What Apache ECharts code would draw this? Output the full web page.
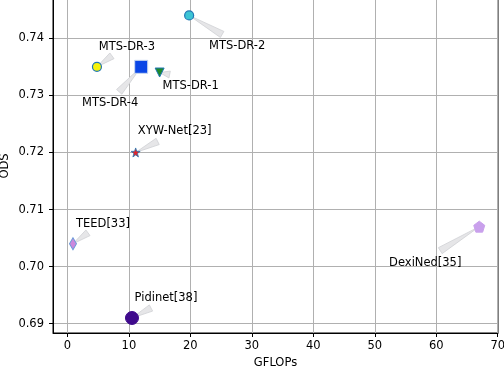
<!DOCTYPE html>
<html>
<head>
<meta charset="utf-8">
<script src="https://cdn.jsdelivr.net/npm/echarts@6/dist/echarts.min.js"></script>
<style>
  html, body { margin: 0; padding: 0; background: #fff; }
  #chart { width: 504px; height: 370px; }
</style>
</head>
<body>
<div id="chart"></div>
<script>
// 数据
var models = ['MTS-DR-2', 'MTS-DR-3', 'MTS-DR-4', 'MTS-DR-1', 'XYW-Net[23]', 'TEED[33]', 'Pidinet[38]', 'DexiNed[35]'];
var gflops = [19.8, 4.8, 12.0, 15.0, 11.1, 0.9, 10.5, 67.0];
var ods = [0.744, 0.735, 0.735, 0.734, 0.720, 0.704, 0.691, 0.707];
var xTicks = [0, 10, 20, 30, 40, 50, 60, 70];
var yTicks = [0.69, 0.70, 0.71, 0.72, 0.73, 0.74];

// marker styles
var STAR = 'path://M0,-10 L2.35,-3.24 L9.51,-3.09 L3.8,1.24 L5.88,8.09 L0,4 L-5.88,8.09 L-3.8,1.24 L-9.51,-3.09 L-2.35,-3.24 Z';
var PENTA = 'path://M0,-10 L9.51,-3.09 L5.88,8.09 L-5.88,8.09 L-9.51,-3.09 Z';
var symbols = ['circle', 'circle', 'rect', 'triangle', STAR, 'diamond', 'circle', PENTA];
var sizes = [9, 9, 13, 9, 9, [7, 12], 13, 11];
var rotates = [0, 0, 0, 180, 0, 0, 0, 0];
var borderW = [1.2, 1.2, 1, 1, 0.8, 1, 1, 1];
var fills = ['#3cc4d4', '#f6f20a', '#0a46e6', '#1e8a2a', '#e0242a', '#cc88dd', '#3f0a8c', '#c9a0ec'];
var edges = ['#1f77b4', '#1f77b4', '#c8d8f0', '#1f77b4', '#1f77b4', '#6a9ad8', '#3f0a8c', '#c9a0ec'];
// 注释箭头宽端、文字相对点的像素偏移
var arrowEnd = [[33, 19], [15, -11], [-22, 25], [10, 2], [22, -11], [15, -11], [19, -10], [-39, 24]];
var textOff = [[48, 31], [30, -20], [-31, 36], [31, 13], [39, -21], [30, -20], [34, -20], [-54, 36]];

var FONT = 'DejaVu Sans';
var chart = echarts.init(document.getElementById('chart'), null, { renderer: 'canvas' });

var series = [{
  type: 'custom',
  z: 1,
  silent: true,
  data: models.map(function (m, i) { return [gflops[i], ods[i], i]; }),
  renderItem: function (params, api) {
    var i = api.value(2);
    var p = api.coord([api.value(0), api.value(1)]);
    var e = [p[0] + arrowEnd[i][0], p[1] + arrowEnd[i][1]];
    var dx = e[0] - p[0], dy = e[1] - p[1];
    var len = Math.sqrt(dx * dx + dy * dy);
    var nx = -dy / len * 3.5, ny = dx / len * 3.5;
    return {
      type: 'polygon',
      shape: { points: [[p[0], p[1]], [e[0] + nx, e[1] + ny], [e[0] - nx, e[1] - ny]] },
      style: { fill: '#e6e6e8', stroke: '#cfd0d4', lineWidth: 0.8 }
    };
  }
}];

models.forEach(function (m, i) {
  series.push({
    type: 'scatter',
    name: m,
    z: 3,
    symbol: symbols[i],
    symbolSize: sizes[i],
    symbolRotate: rotates[i],
    itemStyle: { color: fills[i], borderColor: edges[i], borderWidth: borderW[i], opacity: 1 },
    label: {
      show: true,
      position: 'inside',
      offset: textOff[i],
      formatter: m,
      color: '#000',
      fontFamily: FONT,
      fontSize: 11.5
    },
    data: [[gflops[i], ods[i]]]
  });
});

var option = {
  animation: false,
  backgroundColor: '#fff',
  grid: { left: 53, right: 6, top: -1, bottom: 37, containLabel: false, outerBoundsMode: 'none',
    show: true, borderColor: '#000', borderWidth: 1 },
  xAxis: {
    type: 'value',
    min: -2.35,
    max: 70.05,
    name: 'GFLOPs',
    nameLocation: 'middle',
    nameGap: 23,
    nameTextStyle: { fontFamily: FONT, fontSize: 11.5, color: '#000' },
    axisLine: { onZero: false, lineStyle: { color: '#000' } },
    axisTick: { show: true, length: 4, customValues: xTicks, lineStyle: { color: '#000' } },
    axisLabel: { customValues: xTicks, margin: 7, fontFamily: FONT, fontSize: 11.5, color: '#000',
      formatter: function (v) { return String(Math.round(v)); } },
    splitLine: { show: true, lineStyle: { color: '#b0b0b0', width: 1 } }
  },
  yAxis: {
    type: 'value',
    min: 0.68837,
    max: 0.74688,
    name: 'ODS',
    nameLocation: 'middle',
    nameGap: 42,
    nameMoveOverlap: false,
    nameTextStyle: { fontFamily: FONT, fontSize: 11.5, color: '#000' },
    axisLine: { show: true, onZero: false, lineStyle: { color: '#000' } },
    axisTick: { show: true, length: 4, customValues: yTicks, lineStyle: { color: '#000' } },
    axisLabel: { customValues: yTicks, margin: 9, fontFamily: FONT, fontSize: 11.5, color: '#000',
      formatter: function (v) { return v.toFixed(2); } },
    splitLine: { show: true, lineStyle: { color: '#b0b0b0', width: 1 } }
  },
  series: series
};
chart.setOption(option);
</script>
</body>
</html>
